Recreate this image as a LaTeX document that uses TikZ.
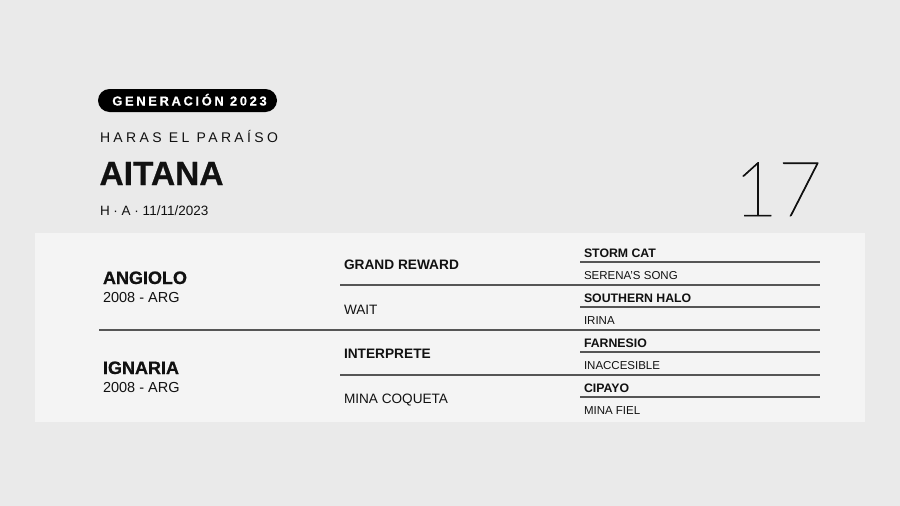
\documentclass[tikz,border=0pt]{standalone}
\usepackage{fontspec}
\setmainfont{Liberation Sans}
\newfontfamily\spacedfont{Liberation Sans}[LetterSpace=24]
\newfontfamily\badgefont{Liberation Sans Bold}[LetterSpace=20, FakeBold=0.4]
\newfontfamily\heavyfont{Liberation Sans Bold}[FakeBold=0.6]
\IfFontExistsTF{Lato Thin}{\newfontfamily\thinfont{Lato Thin}[FakeBold=1]}{%
 \IfFontExistsTF{Lato Hairline}{\newfontfamily\thinfont{Lato Hairline}[FakeBold=1.2]}{%
  \IfFontExistsTF{Lato Light}{\newfontfamily\thinfont{Lato Light}}{%
    \newfontfamily\thinfont{Liberation Sans}}}}
\newcommand\fsz[1]{\fontsize{#1}{#1}\selectfont}
\definecolor{bgc}{HTML}{EAEAEA}
\definecolor{panelc}{HTML}{F4F4F4}
\definecolor{ink}{HTML}{111111}
\definecolor{rulec}{HTML}{555555}
\begin{document}
\begin{tikzpicture}[x=1pt,y=-1pt,
  txt/.style={inner sep=0pt, outer sep=0pt, text=ink, anchor=base west},
  rulel/.style={draw=rulec, line width=1.2pt},
  c1b/.style={txt, font=\heavyfont\fsz{18}},
  c1r/.style={txt, font=\fsz{14.5}},
  c2b/.style={txt, font=\bfseries\fsz{13.7}},
  c2r/.style={txt, font=\fsz{13.6}},
  c3b/.style={txt, font=\bfseries\fsz{12.3}},
  c3r/.style={txt, font=\fsz{11.5}}]
\fill[bgc] (0,0) rectangle (900,506);
\useasboundingbox (0,0) rectangle (900,506);
% panel
\fill[panelc] (35,233) rectangle (865,422);
% header
\node[fill=black, rounded corners=11.5pt, minimum width=179pt, minimum height=23pt, inner sep=0pt] (badge) at (187.5,100.5) {};
\node[txt, anchor=base, text=white, font=\badgefont\fsz{13}] (gen) at (189.5,105.5) {GENERACIÓN 2023};
\node[txt, font=\spacedfont\fsz{14}] (haras) at (100,142) {HARAS EL PARAÍSO};
\node[txt, font=\heavyfont\fsz{33.5}] (name) at (99.5,185) {AITANA};
\node[txt, font=\fsz{13.5}] (info) at (100,215) {H · A · 11/11/2023};
\node[txt, anchor=base east, font=\thinfont\fsz{76}] (num) at (822,216) {17};
% rules
\coordinate (m1) at (99,330);  \coordinate (m2) at (820,330);
\coordinate (a1) at (340,285); \coordinate (a2) at (820,285);
\coordinate (b1) at (340,375); \coordinate (b2) at (820,375);
\coordinate (s1) at (580,262); \coordinate (s2) at (820,262);
\coordinate (t1) at (580,307); \coordinate (t2) at (820,307);
\coordinate (u1) at (580,352); \coordinate (u2) at (820,352);
\coordinate (v1) at (580,397); \coordinate (v2) at (820,397);
\draw[rulel] (m1) -- (m2);
\draw[rulel] (a1) -- (a2);
\draw[rulel] (b1) -- (b2);
\draw[rulel] (s1) -- (s2);
\draw[rulel] (t1) -- (t2);
\draw[rulel] (u1) -- (u2);
\draw[rulel] (v1) -- (v2);
% column 1
\node[c1b] (sire) at (103,284) {ANGIOLO};
\node[c1r] (sirey) at (103,302) {2008 - ARG};
\node[c1b] (dam) at (103,374) {IGNARIA};
\node[c1r] (damy) at (103,392) {2008 - ARG};
% column 2
\node[c2b] (ss) at (344,269) {GRAND REWARD};
\node[c2r] (sd) at (344,314) {WAIT};
\node[c2b] (ds) at (344,358) {INTERPRETE};
\node[c2r] (dd) at (344,403) {MINA COQUETA};
% column 3
\node[c3b] (sss) at (584,257) {STORM CAT};
\node[c3r] (ssd) at (584,279) {SERENA’S SONG};
\node[c3b] (sds) at (584,302) {SOUTHERN HALO};
\node[c3r] (sdd) at (584,324) {IRINA};
\node[c3b] (dss) at (584,347) {FARNESIO};
\node[c3r] (dsd) at (584,369) {INACCESIBLE};
\node[c3b] (dds) at (584,392) {CIPAYO};
\node[c3r] (ddd) at (584,414) {MINA FIEL};
\end{tikzpicture}
\end{document}
